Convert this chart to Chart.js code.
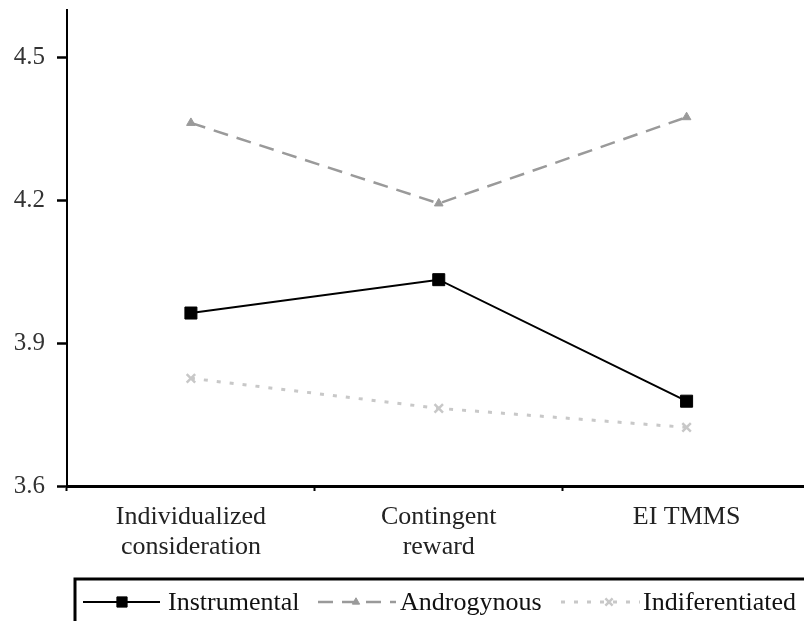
<!DOCTYPE html>
<html>
<head>
<meta charset="utf-8">
<script src="https://cdn.jsdelivr.net/npm/chart.js@4"></script>
<style>
html,body{margin:0;padding:0;overflow:hidden;background:#fff;width:804px;height:621px;}
canvas{display:block;}
</style>
</head>
<body>
<canvas id="c" width="820" height="621"></canvas>
<script>
const categories = [["Individualized","consideration"],["Contingent","reward"],["EI TMMS"]];
const instrumental = [3.963, 4.033, 3.778];
const androgynous = [4.362, 4.193, 4.374];
const indiferentiated = [3.826, 3.763, 3.723];
const yTicks = [3.6, 3.9, 4.2, 4.5];
const seriesNames = ["Instrumental","Androgynous","Indiferentiated"];

const FONT = "'Liberation Serif', 'Times New Roman', serif";

const legendPlugin = {
  id: 'customLegend',
  afterDraw(chart) {
    const ctx = chart.ctx;
    ctx.save();
    ctx.strokeStyle = '#000';
    ctx.lineWidth = 3;
    ctx.beginPath();
    ctx.moveTo(75, 622);
    ctx.lineTo(75, 579);
    ctx.lineTo(820, 579);
    ctx.stroke();
    const y = 602;
    const items = [
      {x0: 83, x1: 160, mx: 122, ds: chart.data.datasets[0], tx: 168},
      {x0: 318, x1: 396, mx: 356, ds: chart.data.datasets[1], tx: 400},
      {x0: 561, x1: 640, mx: 609, ds: chart.data.datasets[2], tx: 643}
    ];
    items.forEach(it => {
      const ds = it.ds;
      ctx.save();
      ctx.strokeStyle = ds.borderColor;
      ctx.lineWidth = ds.borderWidth;
      ctx.setLineDash(ds.borderDash || []);
      ctx.beginPath();
      ctx.moveTo(it.x0, y);
      ctx.lineTo(it.x1, y);
      ctx.stroke();
      ctx.restore();
      ctx.save();
      ctx.fillStyle = ds.pointBackgroundColor;
      ctx.strokeStyle = ds.pointBorderColor;
      ctx.lineWidth = ds.pointBorderWidth || 1;
      Chart.helpers.drawPoint(ctx, {pointStyle: ds.pointStyle, radius: ds.pointRadius * 0.85, rotation: 0, borderWidth: ds.pointBorderWidth || 1}, it.mx, y);
      ctx.restore();
      ctx.fillStyle = '#111';
      ctx.font = '26px ' + FONT;
      ctx.textBaseline = 'middle';
      ctx.textAlign = 'left';
      ctx.fillText(ds.label, it.tx, y + 1);
    });
    ctx.restore();
  }
};

new Chart(document.getElementById('c'), {
  type: 'line',
  data: {
    labels: categories,
    datasets: [
      {
        label: seriesNames[0], data: instrumental,
        borderColor: '#000', backgroundColor: '#000', borderWidth: 2,
        pointStyle: 'rect', pointRadius: 8.5, pointBackgroundColor: '#000', pointBorderColor: '#000', pointBorderWidth: 1,
        tension: 0
      },
      {
        label: seriesNames[1], data: androgynous,
        borderColor: '#9a9a9a', backgroundColor: '#9a9a9a', borderWidth: 2.5, borderDash: [15, 9],
        pointStyle: 'triangle', pointRadius: 5, pointBackgroundColor: '#9a9a9a', pointBorderColor: '#9a9a9a', pointBorderWidth: 1,
        tension: 0
      },
      {
        label: seriesNames[2], data: indiferentiated,
        borderColor: '#c8c8c8', backgroundColor: '#c8c8c8', borderWidth: 3, borderDash: [4, 9],
        pointStyle: 'crossRot', pointRadius: 6, pointBackgroundColor: '#c8c8c8', pointBorderColor: '#c8c8c8', pointBorderWidth: 2.5,
        tension: 0
      }
    ]
  },
  options: {
    responsive: false,
    animation: false,
    events: [],
    layout: { padding: { top: 7, right: 6, left: 0, bottom: 0 } },
    plugins: { legend: { display: false }, tooltip: { enabled: false } },
    scales: {
      x: {
        type: 'category',
        offset: true,
        grid: { display: true, drawOnChartArea: false, drawTicks: true, tickLength: 5, tickWidth: 2, color: '#000', offset: true },
        border: { display: true, color: '#000', width: 3 },
        ticks: { font: { family: FONT, size: 26, lineHeight: 1.15 }, color: '#222', padding: 11, maxRotation: 0, autoSkip: false },
        afterFit(s) { s.height = 135; s.paddingLeft = 0; s.paddingRight = 0; }
      },
      y: {
        min: 3.6, max: 4.6,
        grid: { display: true, drawOnChartArea: false, drawTicks: true, tickLength: 10, tickWidth: 2.5, color: '#000' },
        border: { display: true, color: '#000', width: 2 },
        ticks: { font: { family: FONT, size: 25 }, color: '#333', padding: 12 },
        afterBuildTicks(s) { s.ticks = yTicks.map(v => ({ value: v })); },
        afterFit(s) { s.width = 67; s.paddingTop = 0; s.paddingBottom = 0; }
      }
    }
  },
  plugins: [legendPlugin]
});
</script>
</body>
</html>
